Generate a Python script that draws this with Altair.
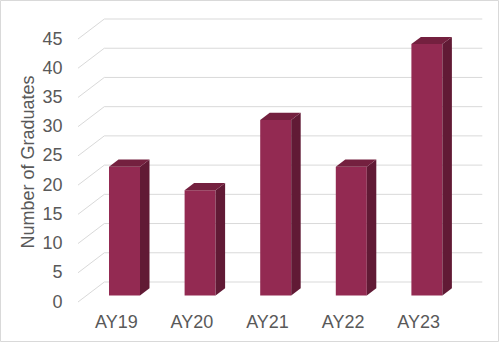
import altair as alt
import pandas as pd

# ---- data ----
categories = ["AY19", "AY20", "AY21", "AY22", "AY23"]
graduates = [22, 18, 30, 22, 43]
y_ticks = [0, 5, 10, 15, 20, 25, 30, 35, 40, 45]
y_title = "Number of Graduates"

# ---- layout / projection constants (pixels) ----
W, H = 378, 263
PAD_L, PAD_T = 78, 39
XMIN, XMAX = -0.5, 4.5
YMIN, YMAX = 0, 45
ux = W / (XMAX - XMIN)          # px per x unit
uy = H / (YMAX - YMIN)          # px per y unit

wall_dx, wall_dy = 26.3 / ux, 20.0 / uy     # front plane -> back wall
front_dx, front_dy = 8.7 / ux, 6.6 / uy     # front plane -> bar front face
bar_dx, bar_dy = 9.5 / ux, 7.2 / uy         # bar depth
half_w = 15.5 / ux

FRONT = "#932A52"
SIDE = "#611A35"
TOP = "#74203F"
GRID = "#D9D9D9"
TEXT = "#595959"

# back-wall gridlines
grid_df = pd.DataFrame({
    "x": [XMIN + wall_dx] * len(y_ticks),
    "x2": [XMAX + wall_dx] * len(y_ticks),
    "y": [t + wall_dy for t in y_ticks],
})
# left wall diagonals
diag_rows = []
for t in y_ticks:
    diag_rows.append({"g": t, "x": XMIN, "y": t})
    diag_rows.append({"g": t, "x": XMIN + wall_dx, "y": t + wall_dy})
diag_df = pd.DataFrame(diag_rows)

# bar faces
front_rows, poly_rows = [], []
for i, (c, v) in enumerate(zip(categories, graduates)):
    xl = i + front_dx - half_w
    xr = i + front_dx + half_w
    base = front_dy
    top = v + front_dy
    front_rows.append({"cat": c, "x": xl, "x2": xr, "y": base, "y2": top})
    poly_rows += [
        {"id": f"s{i}", "face": "side", "x": xr, "y": top, "y2": base},
        {"id": f"s{i}", "face": "side", "x": xr + bar_dx, "y": top + bar_dy, "y2": base + bar_dy},
    ]
    poly_rows += [
        {"id": f"t{i}", "face": "top", "x": xl, "y": top, "y2": top},
        {"id": f"t{i}", "face": "top", "x": xl + bar_dx, "y": top + bar_dy, "y2": top},
        {"id": f"t{i}", "face": "top", "x": xr, "y": top + bar_dy, "y2": top},
        {"id": f"t{i}", "face": "top", "x": xr + bar_dx, "y": top + bar_dy, "y2": top + bar_dy},
    ]
front_df = pd.DataFrame(front_rows)
poly_df = pd.DataFrame(poly_rows)

xscale = alt.Scale(domain=[XMIN, XMAX], nice=False, zero=False)
yscale = alt.Scale(domain=[YMIN, YMAX], nice=False, zero=False)

label_expr = "[" + ",".join(f"'{c}'" for c in categories) + "][datum.value]"

x_axis = alt.Axis(values=list(range(len(categories))), labelExpr=label_expr,
                  title=None, grid=False, domain=False, ticks=False, tickSize=0,
                  labelPadding=11, labelFontSize=18, labelColor=TEXT,
                  labelFont="Liberation Sans", labelOverlap=False, labelFlush=False,
                  zindex=2)
y_axis = alt.Axis(values=y_ticks, title=y_title, grid=False, domain=False,
                  ticks=False, tickSize=0, labelPadding=16, labelFontSize=18,
                  labelColor=TEXT, labelFont="Liberation Sans",
                  labelOverlap=False, labelFlush=False, labelBound=False,
                  titleFontSize=18, titleFont="Liberation Sans", titleColor=TEXT,
                  titleFontWeight="normal", titleAngle=-90, titleX=-45,
                  titleY=H / 2 - 9, titleBaseline="alphabetic", titleAlign="center",
                  zindex=2)

border = alt.Chart(pd.DataFrame({"k": [0]})).mark_rect(
    filled=False, stroke=GRID, strokeWidth=1
).encode(
    x=alt.value(-PAD_L + 0.5), x2=alt.value(498.5 - PAD_L),
    y=alt.value(-PAD_T + 0.5), y2=alt.value(341.5 - PAD_T),
)

grid = alt.Chart(grid_df).mark_rule(color=GRID, strokeWidth=1).encode(
    x=alt.X("x:Q", scale=xscale, axis=x_axis),
    x2="x2:Q",
    y=alt.Y("y:Q", scale=yscale, axis=y_axis),
)

diag = alt.Chart(diag_df).mark_line(color=GRID, strokeWidth=1).encode(
    x=alt.X("x:Q", scale=xscale, axis=x_axis),
    y=alt.Y("y:Q", scale=yscale, axis=y_axis),
    detail="g:N",
)

front = alt.Chart(front_df).mark_rect(color=FRONT).encode(
    x=alt.X("x:Q", scale=xscale, axis=x_axis), x2="x2:Q",
    y=alt.Y("y:Q", scale=yscale, axis=y_axis), y2="y2:Q",
)

faces = alt.Chart(poly_df).mark_area().encode(
    x=alt.X("x:Q", scale=xscale, axis=x_axis),
    y=alt.Y("y:Q", scale=yscale, stack=False, axis=y_axis),
    y2="y2:Q",
    detail="id:N",
    color=alt.Color("face:N", scale=alt.Scale(domain=["side", "top"], range=[SIDE, TOP]),
                    legend=None),
)

chart = alt.layer(grid, diag, front, faces, border).properties(
    width=W, height=H,
    autosize=alt.AutoSizeParams(type="none"),
    padding={"left": PAD_L, "top": PAD_T, "right": 500 - PAD_L - W, "bottom": 343 - PAD_T - H},
    background="white",
).configure_view(stroke=None)

chart.save("out.html", embed_options={"renderer": "svg", "actions": False})
